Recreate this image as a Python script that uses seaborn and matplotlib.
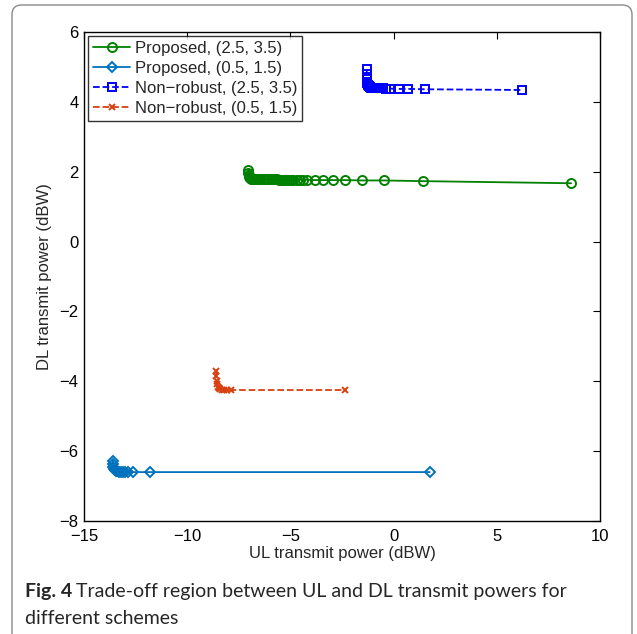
import matplotlib
matplotlib.use("Agg")
import matplotlib.pyplot as plt
from matplotlib.patches import FancyBboxPatch
import numpy as np
import pandas as pd
import seaborn as sns

# Proposed, (2.5, 3.5)
prop_hi_x = [-7.05, -7.05, -7.03, -7.0, -6.95, -6.9, -6.85, -6.75, -6.65, -6.55, -6.45, -6.35,
             -6.25, -6.15, -6.05, -5.95, -5.85, -5.75, -5.65, -5.55, -5.45, -5.35, -5.25, -5.15,
             -5.05, -4.95, -4.85, -4.7, -4.55, -4.4, -4.2, -3.8, -3.42, -2.94, -2.35, -1.55,
             -0.47, 1.42, 8.6]
prop_hi_y = [2.05, 1.97, 1.9, 1.85, 1.82, 1.8, 1.79, 1.79, 1.78, 1.78, 1.78, 1.78,
             1.78, 1.78, 1.78, 1.78, 1.78, 1.78, 1.78, 1.77, 1.77, 1.77, 1.77, 1.77,
             1.77, 1.77, 1.77, 1.77, 1.77, 1.77, 1.77, 1.76, 1.76, 1.76, 1.76, 1.75,
             1.75, 1.73, 1.67]

# Proposed, (0.5, 1.5)
prop_lo_x = [-13.6, -13.6, -13.58, -13.55, -13.5, -13.45, -13.4, -13.3, -13.2, -13.1,
             -13.0, -12.85, -12.63, -11.8, 1.75]
prop_lo_y = [-6.27, -6.38, -6.46, -6.52, -6.55, -6.57, -6.58, -6.59, -6.6, -6.6,
             -6.6, -6.6, -6.6, -6.6, -6.6]

# Non-robust, (2.5, 3.5)
nonr_hi_x = [-1.3, -1.3, -1.29, -1.27, -1.25, -1.2, -1.15, -1.1, -1.0, -0.9, -0.8,
             -0.65, -0.5, -0.35, -0.17, 0.26, 0.7, 1.52, 6.22]
nonr_hi_y = [4.93, 4.8, 4.65, 4.55, 4.48, 4.44, 4.42, 4.41, 4.4, 4.4, 4.39,
             4.39, 4.39, 4.38, 4.38, 4.37, 4.37, 4.36, 4.34]

# Non-robust, (0.5, 1.5)
nonr_lo_x = [-8.6, -8.6, -8.58, -8.55, -8.5, -8.45, -8.4, -8.3, -8.2, -8.05, -7.9, -2.35]
nonr_lo_y = [-3.7, -3.85, -3.98, -4.08, -4.15, -4.2, -4.22, -4.24, -4.25, -4.25, -4.25, -4.25]

labels = ['Proposed, (2.5, 3.5)', 'Proposed, (0.5, 1.5)',
          'Non\u2212robust, (2.5, 3.5)', 'Non\u2212robust, (0.5, 1.5)']

sns.set_style("white")
plt.rcParams['font.family'] = ['Liberation Sans', 'DejaVu Sans']
plt.rcParams['axes.unicode_minus'] = True

fig = plt.figure(figsize=(6.37, 6.34), dpi=100)
ax = fig.add_axes([84/637, 1-521/634, 516/637, 489/634])

series = [
    (prop_hi_x, prop_hi_y, '#008000', 'o', '-', 6.5, labels[0]),
    (prop_lo_x, prop_lo_y, '#0072BD', 'D', '-', 5, labels[1]),
    (nonr_hi_x, nonr_hi_y, '#0000FF', 's', '--', 5.5, labels[2]),
    (nonr_lo_x, nonr_lo_y, '#D9400F', 'x', '--', 5, labels[3]),
]
for xs, ys, col, mk, ls, ms, lab in series:
    df = pd.DataFrame({'x': xs, 'y': ys})
    sns.lineplot(data=df, x='x', y='y', ax=ax, sort=False, estimator=None,
                 color=col, linestyle=ls, marker=mk, markersize=ms,
                 markerfacecolor='none', markeredgecolor=col, markeredgewidth=1.4,
                 linewidth=1.3, label=lab)

ax.set_xlim(-15, 10)
ax.set_ylim(-8, 6)
ax.set_xticks([-15, -10, -5, 0, 5, 10])
ax.set_yticks([-8, -6, -4, -2, 0, 2, 4, 6])
ax.tick_params(direction='in', length=5, width=0.8, top=True, right=True,
               labelsize=12, colors='black')
ax.tick_params(axis='x', pad=6)
ax.tick_params(axis='y', pad=4)
for s in ax.spines.values():
    s.set_color('black')
    s.set_linewidth(1.0)
ax.set_xlabel('UL transmit power (dBW)', fontsize=12, labelpad=1)
ax.set_ylabel('DL transmit power (dBW)', fontsize=12, labelpad=5)

leg = ax.legend(loc='upper left', fontsize=12, frameon=True, fancybox=False,
                handlelength=2.2, handletextpad=0.3, borderpad=0.3,
                labelspacing=0.3, borderaxespad=0.25)
leg.get_frame().set_edgecolor('black')
leg.get_frame().set_linewidth(1.0)

# outer rounded frame
frame = FancyBboxPatch((12/637, -0.1), 620/637, 1.1 - 5/634,
                       boxstyle="round,pad=0,rounding_size=0.015",
                       transform=fig.transFigure, facecolor='none',
                       edgecolor='#8a8a8a', linewidth=1.0, zorder=0)
fig.patches.append(frame)

# caption
cap_font = ['Lato', 'DejaVu Sans']
t1 = fig.text(25/637, 1-591/634, 'Fig. 4', fontsize=14, fontweight='bold',
              family=cap_font, va='center')
fig.canvas.draw()
bb = t1.get_window_extent()
fig.text((bb.x1 + 4)/637, 1-591/634,
         'Trade-off region between UL and DL transmit powers for',
         fontsize=14, family=cap_font, va='center')
fig.text(25/637, 1-618/634, 'different schemes', fontsize=14, family=cap_font,
         va='center')

fig.savefig('out.png', dpi=100)
